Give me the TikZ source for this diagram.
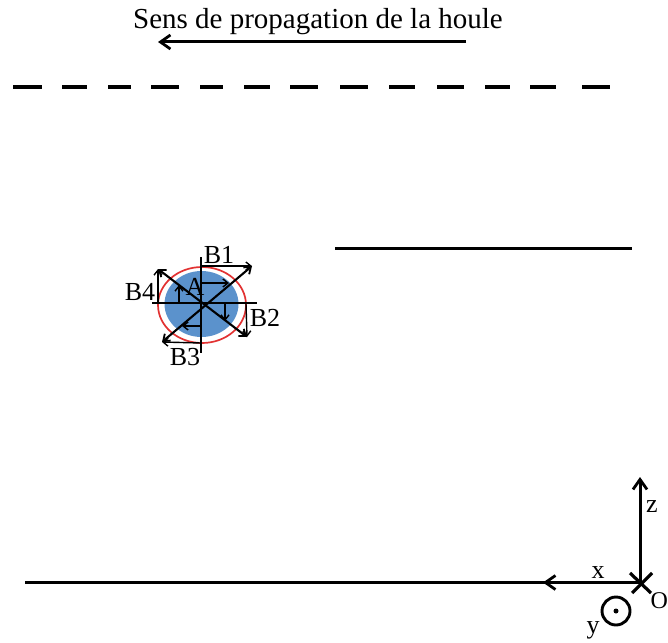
\documentclass[tikz,border=0pt]{standalone}
\usepackage{fontspec}
\setmainfont{Liberation Serif}
\usetikzlibrary{arrows.meta}
\definecolor{cylblue}{RGB}{91,146,204}
\definecolor{ringred}{RGB}{226,50,50}
\tikzset{
 heavyline/.style={line width=3pt,black},
 fineline/.style={line width=1.4pt,black},
 bigarrow/.style={line width=3pt,black,-{Straight Barb[length=10pt,width=14pt,line width=2.8pt]}},
 smallarrow/.style={line width=1.4pt,black,-{Straight Barb[length=5pt,width=8pt,line width=1.4pt]}},
 bothways/.style={line width=2.1pt,black,{Straight Barb[length=6pt,width=9pt,line width=1.8pt]}-{Straight Barb[length=6pt,width=9pt,line width=1.8pt]}},
 lbl/.style={inner sep=0pt,font=\fontsize{26}{28}\selectfont},
 titlelbl/.style={inner sep=0pt,font=\fontsize{29}{31}\selectfont}
}
\begin{document}
\begin{tikzpicture}[x=1pt,y=-1pt]
\useasboundingbox (0,0) rectangle (668,642);
% heading
\node[titlelbl] (title) at (318,22) {Sens de propagation de la houle};
\coordinate (tR) at (466,42); \coordinate (tL) at (158,42);
\draw[bigarrow] (tR) -- (tL);
% dashed line
\foreach \a/\b in {13/42,62/87,108/131,151/179,200/223,244/270,290/318,340/368,389/415,437/464,485/510,530/556,582/610}
  \draw[line width=3.2pt] (\a,87) -- (\b,87);
% middle line
\coordinate (mL) at (335,248.5); \coordinate (mR) at (632,248.5);
\draw[heavyline] (mL) -- (mR);
% cylinder
\draw[ringred,line width=1.7pt] (202,305) ellipse [x radius=44,y radius=38];
\fill[cylblue] (201.5,304) ellipse [x radius=37,y radius=33];
% axes through the centre
\coordinate (cT) at (201,257); \coordinate (cB) at (201,353);
\coordinate (cL) at (152,303); \coordinate (cR) at (257,303);
\draw[fineline] (cT) -- (cB);
\draw[fineline] (cL) -- (cR);
% diagonals
\coordinate (d1) at (158,269); \coordinate (d2) at (247,337);
\coordinate (d3) at (252,266); \coordinate (d4) at (162,342);
\draw[bothways] (d1) -- (d2);
\draw[bothways] (d3) -- (d4);
% outer arrows
\coordinate (o1) at (201,266); \coordinate (o2) at (246,304);
\coordinate (o3) at (201,343); \coordinate (o4) at (158,303);
\draw[smallarrow] (o1) -- (d3);
\draw[smallarrow] (o2) -- (d2);
\draw[smallarrow] (o3) -- (d4);
\draw[smallarrow] (o4) -- (d1);
% inner arrows
\coordinate (i1) at (201,283); \coordinate (i1e) at (229,283);
\coordinate (i2) at (225,304); \coordinate (i2e) at (225,321);
\coordinate (i3) at (201,326); \coordinate (i3e) at (182,326);
\coordinate (i4) at (179,303); \coordinate (i4e) at (179,285);
\draw[smallarrow] (i1) -- (i1e);
\draw[smallarrow] (i2) -- (i2e);
\draw[smallarrow] (i3) -- (i3e);
\draw[smallarrow] (i4) -- (i4e);
% labels
\node[lbl] (B1) at (219,255) {B1};
\node[lbl] (B2) at (265,318) {B2};
\node[lbl] (B3) at (185,357) {B3};
\node[lbl] (B4) at (140,292) {B4};
\node[lbl] (A) at (195,287) {A};
% bottom line and frame
\coordinate (O) at (640,582.5);
\coordinate (bL) at (25,582.5); \coordinate (zT) at (640,477);
\coordinate (xA) at (543,582.5);
\draw[heavyline] (bL) -- (O);
\draw[bigarrow] (O) -- (xA);
\draw[bigarrow] (O) -- (zT);
\draw[line width=3.2pt] (630,573) -- (651,593);
\draw[line width=3.2pt] (632,593) -- (652,573);
\node[lbl] (z) at (652,507) {z};
\node[lbl] (x) at (598,573) {x};
\node[inner sep=0pt,anchor=west,font=\fontsize{24}{26}\selectfont] (C) at (650.5,601) {O};
\node[lbl] (y) at (593,630) {y};
\coordinate (yc) at (616,611);
\draw[line width=2.9pt] (yc) circle [radius=14];
\fill (yc) circle [radius=2.5];
\end{tikzpicture}
\end{document}
